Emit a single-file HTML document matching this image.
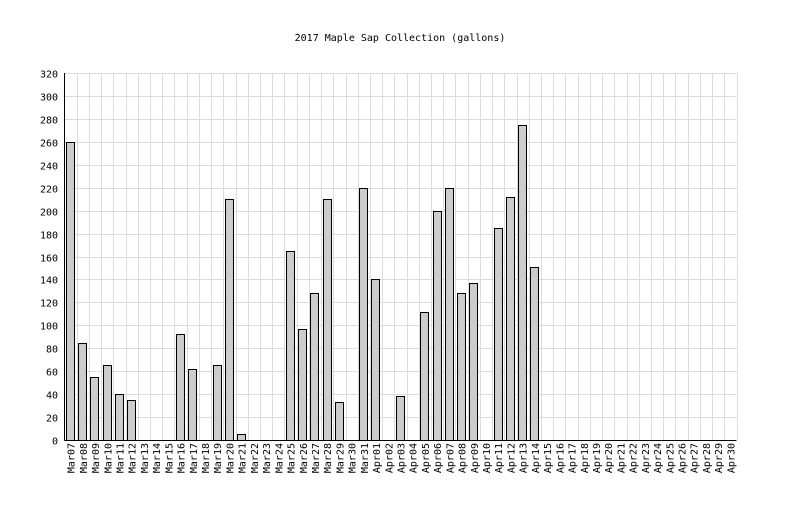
<!DOCTYPE html>
<html><head><meta charset="utf-8"><style>
html,body{margin:0;padding:0;background:#fff;}
svg text{font-family:"DejaVu Sans Mono","Liberation Mono",monospace;font-size:10px;fill:#000;}
</style></head><body>
<svg id="c" width="800" height="500" xmlns="http://www.w3.org/2000/svg">
<text x="400" y="41" text-anchor="middle" style="font-size:10px">2017 Maple Sap Collection (gallons)</text>
</svg>
<script>
var s=document.getElementById('c'),NS='http://www.w3.org/2000/svg';
function el(t,a,txt){var e=document.createElementNS(NS,t);for(var k in a)e.setAttribute(k,a[k]);if(txt!=null)e.textContent=txt;s.appendChild(e);return e;}
var L=64.5,R=736.5,T=73,B=440,n=55,cw=(R-L)/n;
var vals=[260,85,55,65,40,35,0,0,0,92,62,0,65,210,5,0,0,0,165,97,128,210,33,0,220,140,0,38,0,112,200,220,128,137,0,185,212,275,151];
while(vals.length<n)vals.push(0);
var labels=[];for(var d=7;d<=31;d++)labels.push('Mar'+(d<10?'0':'')+d);for(var d=1;d<=30;d++)labels.push('Apr'+(d<10?'0':'')+d);
for(var i=0;i<=16;i++){var y=Math.round(B-(B-T)*i/16)+0.5;el('line',{x1:L,x2:R,y1:y,y2:y,stroke:'#dcdcdc'});el('text',{x:58,y:y+4,'text-anchor':'end'},String(i*20));}
for(var i=1;i<=n;i++){var x=Math.round(L+cw*i)+0.5;el('line',{x1:x,x2:x,y1:T,y2:B,stroke:'#dcdcdc'});}
for(var i=0;i<n;i++){var v=vals[i];var x0=L+cw*i;
 if(v>0){var h=(B-T)*v/320;el('rect',{x:Math.round(x0+1.5)+0.5,y:Math.round(B-h)+0.5,width:8,height:Math.round(h),fill:'#cccccc',stroke:'#000','stroke-width':1});}
 var cx=x0+cw/2+4;el('text',{x:0,y:0,transform:'translate('+cx+',443) rotate(-90)','text-anchor':'end'},labels[i]);}
el('line',{x1:L,x2:L,y1:T,y2:B+0.5,stroke:'#000'});
el('line',{x1:L,x2:R,y1:B+0.5,y2:B+0.5,stroke:'#000'});
</script>
</body></html>
